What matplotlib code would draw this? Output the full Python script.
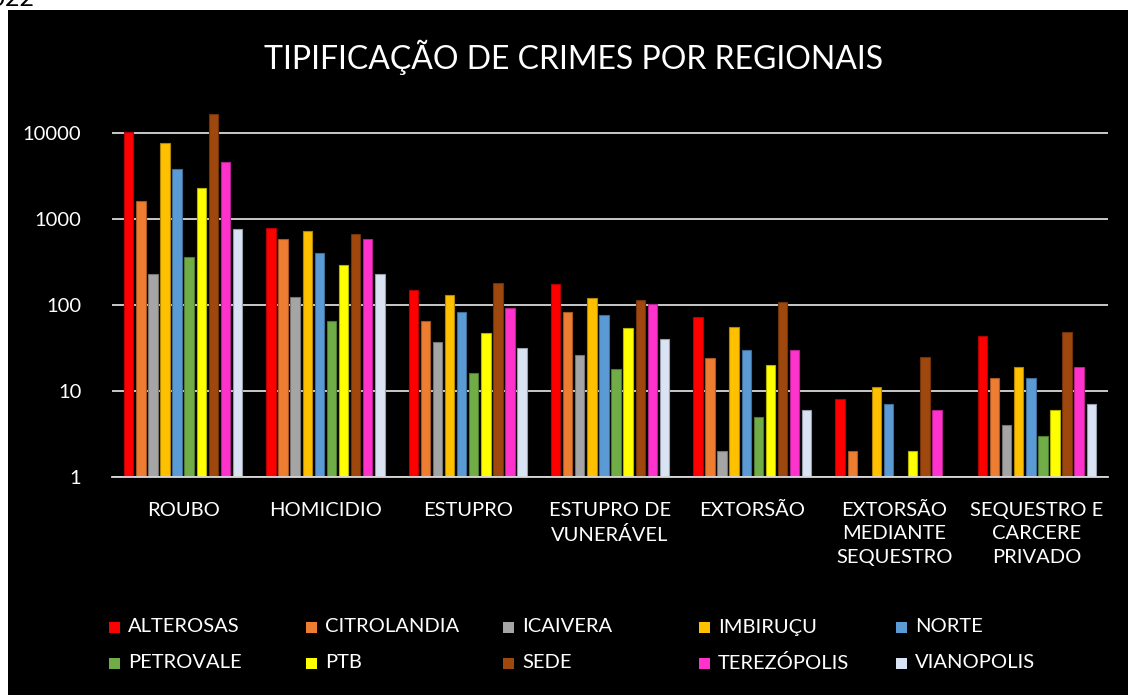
import numpy as np
import matplotlib.pyplot as plt
from matplotlib.patches import Rectangle
from matplotlib.colors import to_rgb

plt.rcParams['font.family'] = ['Lato', 'DejaVu Sans']

categories = ['ROUBO', 'HOMICIDIO', 'ESTUPRO', 'ESTUPRO DE\nVUNERÁVEL', 'EXTORSÃO',
              'EXTORSÃO\nMEDIANTE\nSEQUESTRO', 'SEQUESTRO E\nCARCERE\nPRIVADO']
regions = ['ALTEROSAS', 'CITROLANDIA', 'ICAIVERA', 'IMBIRUÇU', 'NORTE',
           'PETROVALE', 'PTB', 'SEDE', 'TEREZÓPOLIS', 'VIANOPOLIS']
colors = ['#FF0000', '#ED7D31', '#A5A5A5', '#FFC000', '#5B9BD5',
          '#70AD47', '#FFFF00', '#9E480E', '#FF33CC', '#DAE3F3']

alterosas = [10300, 785, 149, 175, 73, 8, 44]
citrolandia = [1620, 590, 65, 84, 24, 2, 14]
icaivera = [231, 125, 37, 26, 2, 0, 4]
imbirucu = [7700, 720, 132, 122, 56, 11, 19]
norte = [3850, 406, 84, 77, 30, 7, 14]
petrovale = [365, 65, 16, 18, 5, 0, 3]
ptb = [2280, 289, 47, 54, 20, 2, 6]
sede = [16600, 670, 181, 114, 109, 25, 49]
terezopolis = [4600, 590, 92, 103, 30, 6, 19]
vianopolis = [760, 228, 32, 40, 6, 0, 7]
series = [alterosas, citrolandia, icaivera, imbirucu, norte,
          petrovale, ptb, sede, terezopolis, vianopolis]

fig = plt.figure(figsize=(11.28, 6.95), dpi=100)
fig.patch.set_facecolor('white')
fig.add_artist(Rectangle((8 / 1128, 0), 1, 1 - 10 / 695, transform=fig.transFigure,
                         facecolor='black', edgecolor='none', zorder=0))
# cut-off date text above the chart, as in the screenshot
fig.text(35 / 1128, 1 - 6 / 695, '2022', ha='right', va='baseline', fontsize=18, color='black')

ax = fig.add_axes([112 / 1128, 218 / 695, 996 / 1128, 367 / 695])
ax.set_facecolor('black')
ax.set_yscale('log')
ax.set_ylim(1, 18500)
ax.set_xlim(-0.5, len(categories) - 0.5)

x = np.arange(len(categories))
slot = 0.085
for i, (vals, c) in enumerate(zip(series, colors)):
    v = np.array(vals, dtype=float)
    h = np.clip(v - 1, 0, None)
    edge = tuple(np.array(to_rgb(c)) * 0.7)
    ax.bar(x + (i - 4.5) * slot, h, width=0.066, bottom=1, color=c,
           edgecolor=edge, linewidth=0.8, zorder=3)

ax.set_yticks([1, 10, 100, 1000, 10000])
ax.set_yticklabels(['1', '10', '100', '1000', '10000'])
ax.minorticks_off()
ax.yaxis.grid(True, color='#D9D9D9', linewidth=1.3, zorder=1)
ax.set_axisbelow(True)
for s in ['top', 'right', 'left']:
    ax.spines[s].set_visible(False)
ax.spines['bottom'].set_color('#D9D9D9')
ax.spines['bottom'].set_linewidth(1.3)
ax.spines['bottom'].set_zorder(4)

ax.set_xticks(x)
ax.set_xticklabels(categories, linespacing=1.45)
ax.tick_params(axis='x', length=0, pad=18, labelsize=14.5, colors='white')
ax.tick_params(axis='y', length=0, pad=22, labelsize=14.5, colors='white')

fig.text(574 / 1128, 1 - 57 / 695, 'TIPIFICAÇÃO DE CRIMES POR REGIONAIS',
         ha='center', va='center', fontsize=23, color='white')

# legend, row-major, fixed column spacing
col_x = [109, 306, 503, 699, 896]
row_y = [627, 663]
for i, (name, c) in enumerate(zip(regions, colors)):
    cx = col_x[i % 5]
    cy = row_y[i // 5]
    fig.add_artist(Rectangle((cx / 1128, 1 - (cy + 5.5) / 695), 11 / 1128, 11 / 695,
                             transform=fig.transFigure, facecolor=c, edgecolor='none'))
    fig.text((cx + 19) / 1128, 1 - cy / 695, name, ha='left', va='center',
             fontsize=14.5, color='white')

fig.savefig('out.png', dpi=100, facecolor=fig.get_facecolor())
